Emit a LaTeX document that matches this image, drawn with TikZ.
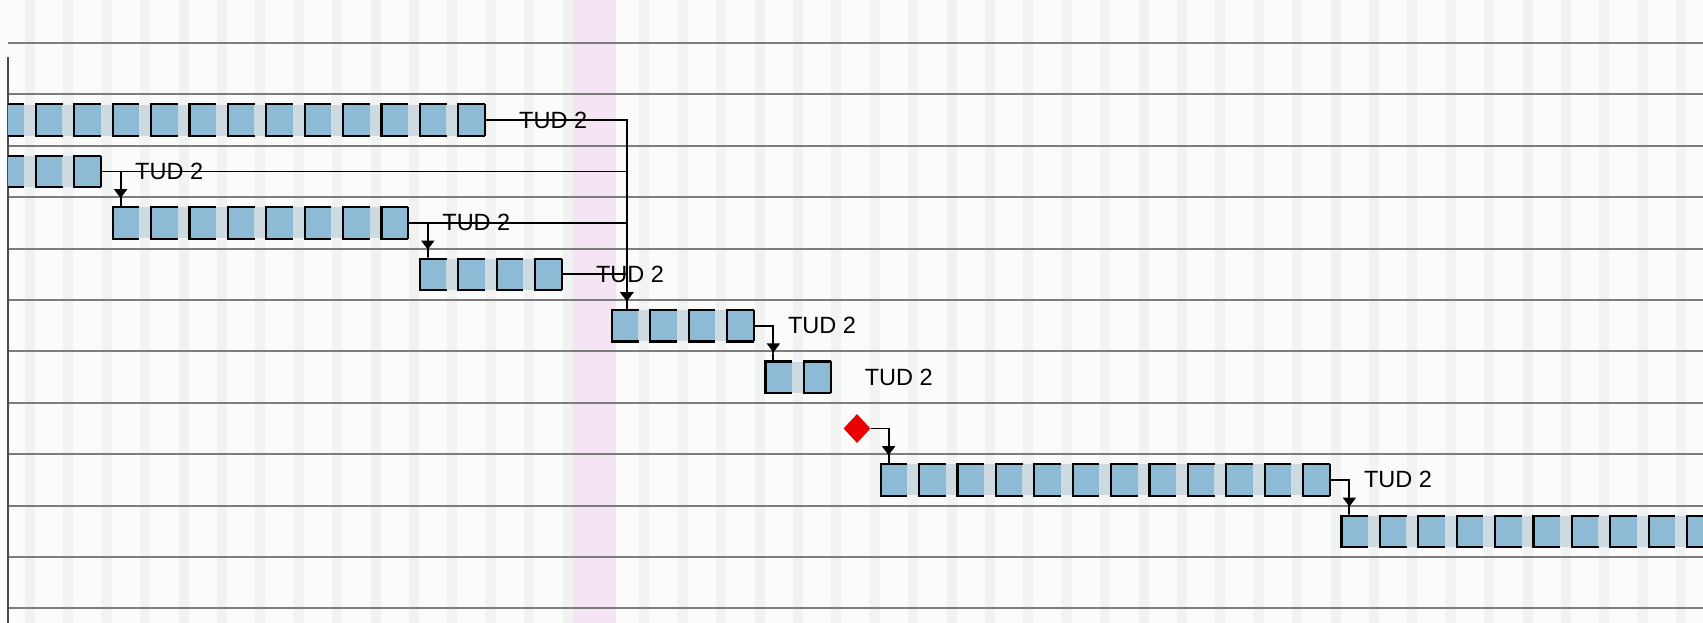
\documentclass[tikz,border=0pt]{standalone}
\usepackage{fontspec}
\setmainfont{Liberation Sans}
\usetikzlibrary{positioning}
\usetikzlibrary{arrows.meta}
\usetikzlibrary{shapes.geometric}

\definecolor{boxblue}{RGB}{141,186,212}
\definecolor{gapblue}{RGB}{206,218,226}
\definecolor{stripegray}{RGB}{241,242,242}
\definecolor{bggray}{RGB}{251,251,251}
\definecolor{holidaypink}{RGB}{245,228,244}
\definecolor{gridgray}{RGB}{125,125,125}

\begin{document}
\begin{tikzpicture}[
    x=1pt, y=-1pt,
    % one working day of a task bar
    daybox/.style={rectangle, fill=boxblue, minimum width=26.4pt, minimum height=31pt, inner sep=0pt},
    boxline/.style={draw=black, line width=2.2pt},
    link/.style={draw, line width=1.9pt, -{Triangle[width=13pt,length=9pt] Rectangle[width=1.9pt,length=9pt]}},
    milestone/.style={diamond, fill=red!92!black, minimum width=27pt, minimum height=29pt, inner sep=0pt},
    res/.style={font=\fontsize{23.5}{28}\selectfont, inner sep=0pt},
    gridline/.style={draw=gridgray, line width=2pt},
]
\useasboundingbox (0,0) rectangle (1703,623);
\fill[bggray] (0,0) rectangle (1703,623);

% =========================================================
% calendar background: day stripes, holiday, row lines
% =========================================================
\foreach \k in {0,...,43}
  \fill[stripegray] ({30+38.4*\k-5},0) rectangle ({30+38.4*\k+5},623);
\fill[holidaypink] (573,0) rectangle (616,623);
\foreach \j in {0,...,11}
  \draw[gridline] (8,{43+51.4*\j}) -- (1703,{43+51.4*\j});
\draw[gray!60!black, line width=1.2pt] (8,57) -- (8,623);

% =========================================================
% task bars (name/first day/last day/row centre)
% =========================================================
\begin{scope}
\clip (8,0) rectangle (1703,623);
\foreach \r/\first/\last/\y in {a/0/12/120.1, b/0/2/171.5, c/3/10/222.9, d/11/14/274.3,
                                e/16/19/325.7, f/20/21/377.1, g/23/34/479.9, h/35/44/531.3} {
  \fill[gapblue] ({-2.4+38.4*\first},{\y-15.5}) rectangle ({24+38.4*\last},{\y+15.5});
  \foreach \k in {\first,...,\last} {
    \node[daybox] (\r\k) at ({10.8+38.4*\k},\y) {};
    \draw[boxline] (\r\k.north east) -- (\r\k.north west) -- (\r\k.south west) -- (\r\k.south east);
  }
  \draw[boxline] (\r\last.north east) -- (\r\last.south east);
}
\end{scope}

% milestone
\node[milestone] (ms) at (857,428.5) {};

% =========================================================
% dependencies
% =========================================================
\draw[link] (a12.east) -| ([xshift=15pt]e16.north west);
\draw[link] (b2.east) -| ([xshift=8pt]c3.north west);
\draw[link] (b2.east) -| ([xshift=15pt]e16.north west);
\draw[link] (c10.east) -| ([xshift=8pt]d11.north west);
\draw[link] (c10.east) -| ([xshift=15pt]e16.north west);
\draw[link] (d14.east) -| ([xshift=15pt]e16.north west);
\draw[link] (e19.east) -| ([xshift=8pt]f20.north west);
\draw[link] (ms.east) -| ([xshift=8pt]g23.north west);
\draw[link] (g34.east) -| ([xshift=8pt]h35.north west);

% resource labels
\node[res, right=34pt of a12] (ra) {TUD 2};
\node[res, right=34pt of b2]  (rb) {TUD 2};
\node[res, right=34pt of c10] (rc) {TUD 2};
\node[res, right=34pt of d14] (rd) {TUD 2};
\node[res, right=34pt of e19] (re) {TUD 2};
\node[res, right=34pt of f21] (rf) {TUD 2};
\node[res, right=34pt of g34] (rg) {TUD 2};

\end{tikzpicture}
\end{document}
